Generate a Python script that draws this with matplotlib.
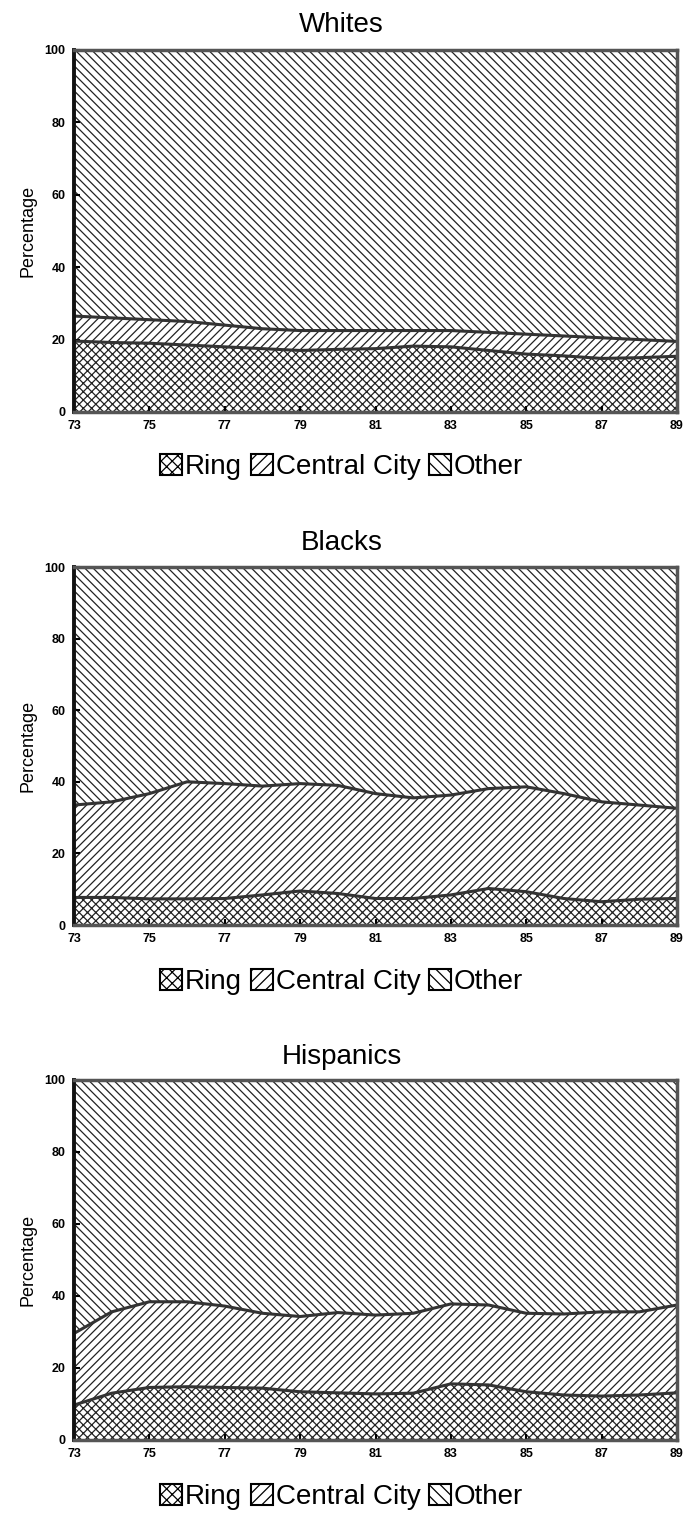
import numpy as np
import matplotlib
matplotlib.use("Agg")
import matplotlib.pyplot as plt
from matplotlib.patches import Patch

plt.rcParams["font.family"] = ["Liberation Sans", "DejaVu Sans"]
plt.rcParams["hatch.linewidth"] = 0.9
plt.rcParams["hatch.color"] = "#222222"

# data (percent of group, by year)
years = list(range(73, 90))
tick_years = [73, 75, 77, 79, 81, 83, 85, 87, 89]
series_names = ["Ring", "Central City", "Other"]

whites_ring = [19.6, 19.2, 19.0, 18.5, 18.0, 17.5, 17.0, 17.3, 17.5, 18.2, 18.0, 17.0, 16.0, 15.5, 14.8, 15.0, 15.4]
whites_cc = [6.9, 6.8, 6.5, 6.5, 6.0, 5.5, 5.5, 5.2, 5.0, 4.3, 4.5, 5.0, 5.5, 5.5, 5.7, 5.0, 4.1]
whites_other = [73.5, 74.0, 74.5, 75.0, 76.0, 77.0, 77.5, 77.5, 77.5, 77.5, 77.5, 78.0, 78.5, 79.0, 79.5, 80.0, 80.5]

blacks_ring = [7.7, 7.7, 7.3, 7.3, 7.4, 8.4, 9.5, 8.8, 7.4, 7.4, 8.4, 10.2, 9.3, 7.4, 6.5, 7.2, 7.4]
blacks_cc = [25.8, 26.7, 29.4, 32.7, 32.1, 30.4, 30.0, 30.2, 29.3, 28.1, 27.9, 27.9, 29.3, 29.3, 27.9, 26.3, 25.2]
blacks_other = [66.5, 65.6, 63.3, 60.0, 60.5, 61.2, 60.5, 61.0, 63.3, 64.5, 63.7, 61.9, 61.4, 63.3, 65.6, 66.5, 67.4]

hisp_ring = [9.7, 13.0, 14.6, 14.8, 14.6, 14.4, 13.4, 13.1, 12.8, 13.0, 15.6, 15.3, 13.4, 12.5, 12.2, 12.5, 13.1]
hisp_cc = [19.9, 22.6, 23.8, 23.6, 22.6, 20.8, 20.9, 22.3, 21.9, 22.2, 22.2, 22.2, 21.8, 22.5, 23.4, 23.1, 24.4]
hisp_other = [70.4, 64.4, 61.6, 61.6, 62.8, 64.8, 65.7, 64.6, 65.3, 64.8, 62.2, 62.5, 64.8, 65.0, 64.4, 64.4, 62.5]

panels = [
    ("Whites", whites_ring, whites_cc, whites_other),
    ("Blacks", blacks_ring, blacks_cc, blacks_other),
    ("Hispanics", hisp_ring, hisp_cc, hisp_other),
]

hatches = ["xxxx", "////", "\\\\\\\\"]
legend_hatches = ["xxx", "///", "\\\\\\"]
ink = "#222222"

W, H = 683, 1516
fig = plt.figure(figsize=(W / 100, H / 100), dpi=100)

# pixel layout: (axes top, axes bottom, title y, legend y)
layout = [(50, 412, 25, 467), (567, 925, 543, 982), (1080, 1440, 1057, 1497)]
left_px, right_px = 74, 677

for (name, ring, cc, other), (top, bot, ty, ly) in zip(panels, layout):
    ax = fig.add_axes([left_px / W, 1 - bot / H, (right_px - left_px) / W, (bot - top) / H])
    ax.stackplot(years, ring, cc, other, colors=["white"] * 3,
                 hatch=hatches, edgecolor=ink, linewidth=0)
    cum = np.cumsum([ring, cc], axis=0)
    ax.plot(years, cum[0], color="#333333", lw=2.2)
    ax.plot(years, cum[1], color="#333333", lw=2.2)

    ax.set_xlim(73, 89)
    ax.set_ylim(0, 100)
    ax.set_xticks(tick_years)
    ax.set_xticklabels([str(y) for y in tick_years])
    ax.set_yticks([0, 20, 40, 60, 80, 100])
    ax.tick_params(direction="in", length=4, width=1.5, labelsize=9, pad=6)
    for lab in ax.get_xticklabels() + ax.get_yticklabels():
        lab.set_fontweight("bold")
    for side in ["top", "bottom", "right"]:
        ax.spines[side].set_linewidth(2.5)
        ax.spines[side].set_color("#555555")
    ax.spines["left"].set_linewidth(2.8)
    ax.spines["left"].set_color("#111111")
    ax.set_ylabel("Percentage", fontsize=13, labelpad=6)

    fig.text(0.5, 1 - ty / H, name, ha="center", va="center", fontsize=20)

    handles = [Patch(facecolor="white", edgecolor="black", hatch=h, linewidth=1.5)
               for h in legend_hatches]
    fig.legend(handles, series_names, loc="center", ncol=3,
               bbox_to_anchor=(0.5, 1 - ly / H), frameon=False, fontsize=20,
               handlelength=0.8, handleheight=0.8, handletextpad=0.1,
               columnspacing=0.3, borderpad=0)

fig.savefig("out.png", dpi=100)
